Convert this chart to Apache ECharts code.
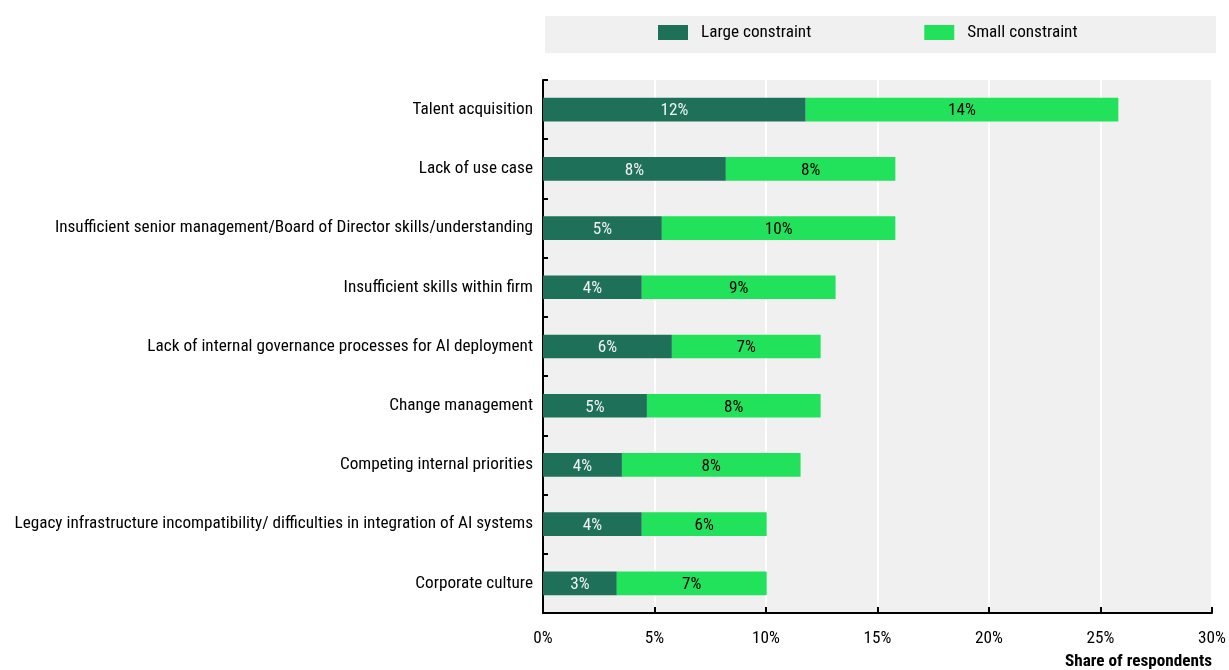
<!DOCTYPE html>
<html>
<head>
<meta charset="utf-8">
<script src="https://cdn.jsdelivr.net/npm/echarts@6/dist/echarts.min.js"></script>
<style>
  html, body { margin: 0; padding: 0; background: #fff; }
  #chart { width: 1229px; height: 670px; }
</style>
</head>
<body>
<div id="chart"></div>
<script>
// Constraints on AI adoption, share of respondents (%)
const categories = [
  'Talent acquisition',
  'Lack of use case',
  'Insufficient senior management/Board of Director skills/understanding',
  'Insufficient skills within firm',
  'Lack of internal governance processes for AI deployment',
  'Change management',
  'Competing internal priorities',
  'Legacy infrastructure incompatibility/ difficulties in integration of AI systems',
  'Corporate culture'
];
const largeConstraint = [11.78, 8.2, 5.33, 4.43, 5.78, 4.66, 3.54, 4.43, 3.31];
const smallConstraint = [14.02, 7.6, 10.47, 8.69, 6.67, 7.79, 8.01, 5.6, 6.72];
const xTicks = [0, 5, 10, 15, 20, 25, 30];

const FONT = "'Liberation Sans Narrow', 'Arial Narrow', 'Roboto Condensed', 'Liberation Sans', sans-serif";
const FS = 17.2;
const DARK = '#1f7059';
const LIGHT = '#22e15b';

const chart = echarts.init(document.getElementById('chart'), null, { renderer: 'canvas' });

const pctLabel = (color) => ({
  show: true,
  position: 'inside',
  offset: [0, 1.5],
  color: color,
  fontFamily: FONT,
  fontSize: FS,
  formatter: (p) => Math.round(p.value) + '%'
});

chart.setOption({
  animation: false,
  textStyle: { fontFamily: FONT },
  graphic: [{
    type: 'rect',
    left: 545, top: 16,
    shape: { width: 671, height: 37 },
    style: { fill: '#f0f0f0' },
    z: -1
  }],
  legend: {
    left: 653, top: 19,
    itemWidth: 30, itemHeight: 15,
    itemGap: 113,
    icon: 'rect',
    textStyle: { fontFamily: FONT, fontSize: FS, color: '#000', padding: [2, 0, 0, 8] },
    data: ['Large constraint', 'Small constraint']
  },
  grid: {
    left: 543, right: 17, top: 80, bottom: 57,
    show: true, backgroundColor: '#f0f0f0', borderWidth: 0
  },
  xAxis: {
    type: 'value',
    min: xTicks[0], max: xTicks[xTicks.length - 1], interval: 5,
    name: 'Share of respondents',
    nameLocation: 'end',
    nameGap: 0,
    nameTextStyle: {
      fontFamily: FONT, fontSize: FS, fontWeight: 'bold', color: '#000',
      align: 'right', verticalAlign: 'top', padding: [40, 0, 0, 0]
    },
    axisLine: { show: true, lineStyle: { color: '#000', width: 2 } },
    axisTick: { show: true, inside: true, length: 6, lineStyle: { color: '#000', width: 2 } },
    axisLabel: {
      color: '#000', fontFamily: FONT, fontSize: FS, margin: 17,
      formatter: (v) => v + '%'
    },
    splitLine: { show: true, lineStyle: { color: '#fff', width: 2 } }
  },
  yAxis: {
    type: 'category',
    inverse: true,
    data: categories,
    axisLine: { show: true, lineStyle: { color: '#000', width: 2 } },
    axisTick: { show: true, inside: true, length: 5, lineStyle: { color: '#000', width: 2 } },
    axisLabel: { color: '#000', fontFamily: FONT, fontSize: FS, margin: 10, padding: [3, 0, 0, 0] },
    splitLine: { show: false }
  },
  series: [
    {
      name: 'Large constraint',
      type: 'bar',
      stack: 'total',
      barWidth: '40%',
      itemStyle: { color: DARK },
      label: pctLabel('#f2f2f2'),
      data: largeConstraint
    },
    {
      name: 'Small constraint',
      type: 'bar',
      stack: 'total',
      barWidth: '40%',
      itemStyle: { color: LIGHT },
      label: pctLabel('#000'),
      data: smallConstraint
    }
  ]
});
</script>
</body>
</html>
